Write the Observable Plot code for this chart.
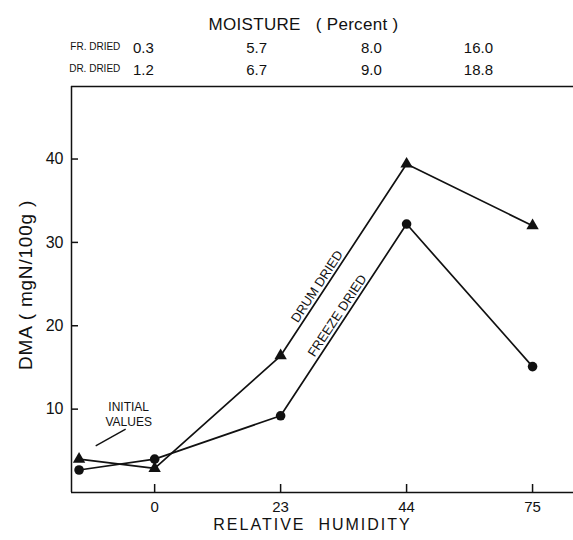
<!DOCTYPE html>
<html><head><meta charset="utf-8">
<script src="https://cdn.jsdelivr.net/npm/d3@7"></script>
<script src="https://cdn.jsdelivr.net/npm/@observablehq/plot@0.6"></script>
<style>body{margin:0;background:#fff} svg{display:block;background:#fff}</style>
</head><body><div id="chart"></div>
<script>
// categories along relative humidity axis (first = initial values)
const categories = ["initial", "0", "23", "44", "75"];
const catPos = [-0.6, 0, 1, 2, 3];
const drumDried = [4.0, 2.9, 16.4, 39.4, 32.0];
const freezeDried = [2.7, 4.0, 9.2, 32.2, 15.1];
const yTicks = [10, 20, 30, 40];
const xTickLabels = ["0", "23", "44", "75"];
const xTickPos = [0, 1, 2, 3];
// moisture header
const moisturePos = [-0.09, 0.81, 1.72, 2.57];
const moistureFr = ["0.3", "5.7", "8.0", "16.0"];
const moistureDr = ["1.2", "6.7", "9.0", "18.8"];
// annotations
const seriesLabels = [
  {text: "DRUM DRIED", x: 1.29, y: 24.7},
  {text: "FREEZE DRIED", x: 1.45, y: 21.2}
];
const initialNote = {text: "INITIAL\nVALUES", x: -0.206, y: 9.5};
const initialLeader = {x1: -0.468, y1: 5.6, x2: -0.23, y2: 7.6};
const xTitle = "RELATIVE  HUMIDITY";
const yTitle = "DMA ( mgN/100g )";
const topTitle = "MOISTURE   ( Percent )";

const rows = [];
categories.forEach((c, i) => rows.push({series: "Drum dried", x: catPos[i], y: drumDried[i]}));
categories.forEach((c, i) => rows.push({series: "Freeze dried", x: catPos[i], y: freezeDried[i]}));
const drumRows = rows.filter(d => d.series === "Drum dried");
const freezeRows = rows.filter(d => d.series === "Freeze dried");

const W = 573, H = 540, mT = 86, mL = 71, mR = 0, mB = 48;
const pw = W - mL - mR, ph = H - mT - mB;
const yMax = 48.7, xMin = -0.66;
const font = "Liberation Sans, Arial, sans-serif";

const chart = Plot.plot({
  width: W, height: H,
  marginTop: mT, marginLeft: mL, marginRight: mR, marginBottom: mB,
  style: {fontFamily: font, color: "#111", background: "#fff"},
  x: {type: "linear", domain: [xMin, 3.325], axis: null},
  y: {domain: [0, yMax], axis: null},
  marks: [
    Plot.ruleY([0, yMax], {stroke: "#111", strokeWidth: 1.5}),
    Plot.ruleX([xMin], {stroke: "#111", strokeWidth: 1.5}),
    Plot.tickY(yTicks, {y: d => d, insetRight: pw - 7, stroke: "#111", strokeWidth: 1.5}),
    Plot.text(yTicks, {y: d => d, frameAnchor: "left", dx: -8, textAnchor: "end", fontSize: 16, fill: "#111"}),
    Plot.tickX(xTickPos, {x: d => d, insetTop: ph - 8, stroke: "#111", strokeWidth: 1.5}),
    Plot.text(xTickPos, {x: d => d, text: (d, i) => xTickLabels[i], frameAnchor: "bottom", dy: 19, fontSize: 15, fill: "#111"}),
    // axis titles
    Plot.text([xTitle], {frameAnchor: "bottom", dx: -10, dy: 37, fontSize: 16, fill: "#111"}),
    Plot.text([yTitle], {y: 24.9, frameAnchor: "left", textAnchor: "middle", dx: -46, rotate: -90, fontSize: 19, fill: "#111"}),
    // header
    Plot.text([topTitle], {frameAnchor: "top", dx: -19, dy: -69, fontSize: 17, fill: "#111"}),
    Plot.text(moisturePos, {x: d => d, text: (d, i) => moistureFr[i], frameAnchor: "top", dy: -44, fontSize: 15, fill: "#111"}),
    Plot.text(moisturePos, {x: d => d, text: (d, i) => moistureDr[i], frameAnchor: "top", dy: -22, fontSize: 15, fill: "#111"}),
    Plot.text([moisturePos[0]], {x: d => d, text: ["FR. DRIED"], frameAnchor: "top", dy: -44, dx: -23, textAnchor: "end", fontSize: 10, fill: "#111"}),
    Plot.text([moisturePos[0]], {x: d => d, text: ["DR. DRIED"], frameAnchor: "top", dy: -22, dx: -23, textAnchor: "end", fontSize: 10, fill: "#111"}),
    // data
    Plot.line(drumRows, {x: "x", y: "y", stroke: "#111", strokeWidth: 1.7}),
    Plot.line(freezeRows, {x: "x", y: "y", stroke: "#111", strokeWidth: 1.7}),
    Plot.dot(drumRows, {x: "x", y: "y", symbol: "triangle", r: 4.6, fill: "#111", stroke: "none"}),
    Plot.dot(freezeRows, {x: "x", y: "y", symbol: "circle", r: 4.8, fill: "#111", stroke: "none"}),
    // annotations
    Plot.text(seriesLabels, {x: "x", y: "y", text: "text", rotate: -56.5, fontSize: 13, fill: "#111"}),
    Plot.text([initialNote], {x: "x", y: "y", text: "text", fontSize: 12, lineHeight: 1.25, fill: "#111"}),
    Plot.link([initialLeader], {x1: "x1", y1: "y1", x2: "x2", y2: "y2", stroke: "#111", strokeWidth: 1.4})
  ]
});
const sp = {[xTitle]: 2, [yTitle]: 0.8, [topTitle]: 0.3};
d3.select(chart).selectAll("text").each(function () {
  const t = this.textContent;
  if (t in sp) d3.select(this).attr("letter-spacing", sp[t]);
});
document.getElementById("chart").appendChild(chart);
</script>
</body></html>
